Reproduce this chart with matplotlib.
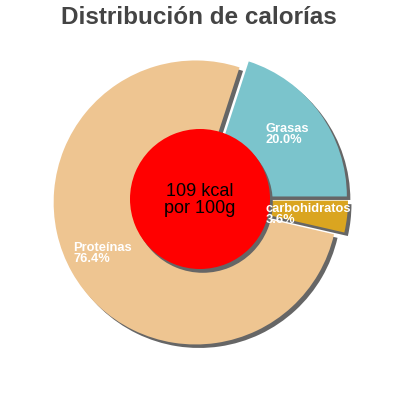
import matplotlib
matplotlib.use("Agg")
import matplotlib.pyplot as plt

plt.rcParams['font.family'] = ['Liberation Sans', 'DejaVu Sans']

# slice data (counter-clockwise from 3 o'clock)
LABELS = ["Grasas", "Proteínas", "carbohidratos"]
PERCENTS = [20.0, 76.4, 3.6]
COLORS = ["#7BC4CC", "#EEC591", "#DAA520"]
KCAL = 109

# label anchor positions (pixels from pie centre, y up)
LABEL_POS = {"Grasas": (66, 77), "Proteínas": (-127, -42), "carbohidratos": (66, -3)}

RADIUS = 142
HOLE = 70
EXPLODE = [6, 5, 6]
SHADOW = (3.5, -3.5)
SHADOW_COLOR = "#666666"

fig = plt.figure(figsize=(4, 4), dpi=100)
ax = fig.add_axes([0, 0, 1, 1])
ax.set_aspect("equal")
ax.axis("off")

# shadows
ax.pie(PERCENTS, radius=RADIUS, center=SHADOW, explode=EXPLODE,
       colors=[SHADOW_COLOR] * len(PERCENTS), startangle=0,
       wedgeprops=dict(linewidth=0))
ax.pie(PERCENTS, radius=RADIUS, center=(0, 0), explode=EXPLODE,
       colors=COLORS, startangle=0, wedgeprops=dict(linewidth=0))

# centre disc with its shadow
ax.pie([1], radius=HOLE, center=(SHADOW[0] * 0.8, SHADOW[1] * 0.8),
       colors=[SHADOW_COLOR], wedgeprops=dict(linewidth=0))
ax.pie([1], radius=HOLE, center=(0, 1), colors=["#FF0000"],
       wedgeprops=dict(linewidth=0))

ax.set_xlim(-200, 200)
ax.set_ylim(-200, 200)

for name, pct in zip(LABELS, PERCENTS):
    x, y = LABEL_POS[name]
    ax.text(x, y, f"{name}\n{pct:.1f}%", color="white", fontsize=9.3,
            fontweight="bold", ha="left", va="top", linespacing=0.85)

ax.text(0, 0, f"{KCAL} kcal\npor 100g", color="black", fontsize=13,
        ha="center", va="center", linespacing=0.95)

fig.text(0.497, 1 - 17 / 400, "Distribución de calorías", color="#444444",
         fontsize=17.5, fontweight="bold", ha="center", va="center")

fig.savefig("out.png", dpi=100)
